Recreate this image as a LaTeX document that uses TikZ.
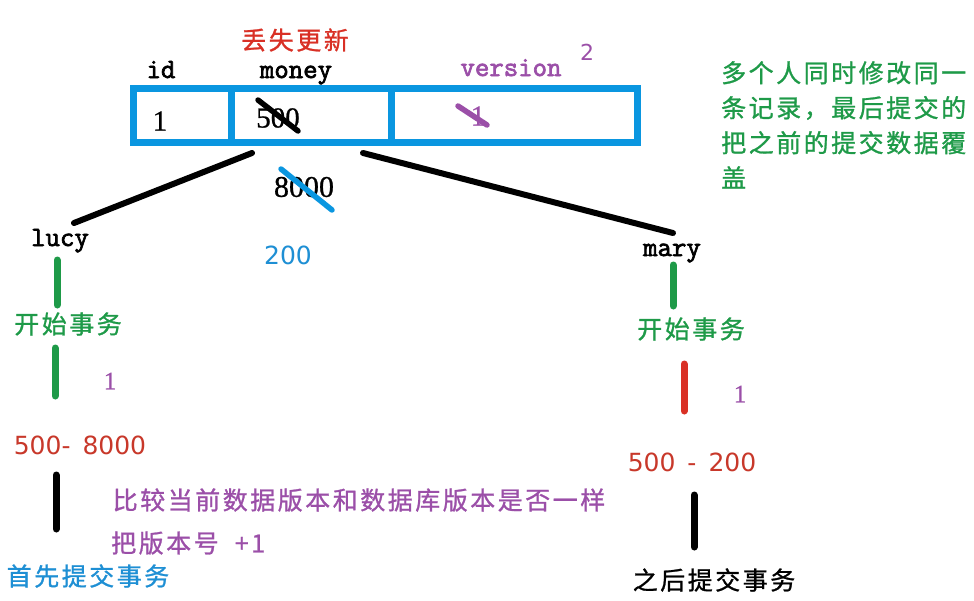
\documentclass[tikz,border=0pt]{standalone}
\usepackage{fontspec}
\newfontfamily\cjk[LetterSpace=10,FakeBold=1]{Noto Sans CJK SC}
\newfontfamily\monob{Latin Modern Mono}[FakeBold=2.5]
\newfontfamily\serifnum{Liberation Serif}[FakeBold=0.8]
\newfontfamily\sansnum{DejaVu Sans}
\definecolor{tblue}{HTML}{0A96E0}
\definecolor{tgreen}{HTML}{1E9A48}
\definecolor{tred}{HTML}{D93025}
\definecolor{tred2}{HTML}{C8382A}
\definecolor{tpurple}{HTML}{9B4FA8}
\definecolor{tblue2}{HTML}{1E8FD4}
\tikzset{
  cjktxt/.style={inner sep=0pt, font=\cjk\fontsize{25}{35}\selectfont},
  monotxt/.style={inner sep=0pt, font=\monob\fontsize{28}{30}\selectfont},
  sertxt/.style={inner sep=0pt, font=\serifnum\fontsize{29}{32}\selectfont},
  santxt/.style={inner sep=0pt, font=\sansnum\fontsize{25}{28}\selectfont},
  thick line/.style={line width=6pt, line cap=round},
  bar/.style={line width=7pt, line cap=round},
  strike/.style={line width=5.5pt, line cap=round},
}
\begin{document}
\begin{tikzpicture}[x=1pt,y=-1pt]
\useasboundingbox[fill=white] (0,0) rectangle (974,600);
% title
\node[cjktxt, text=tred] (title) at (295,40) {丢失更新};
% headers
\node[monotxt, anchor=base] (hid) at (161,78) {id};
\node[monotxt, anchor=base] (hmoney) at (296,78) {money};
\node[monotxt, anchor=base, text=tpurple] (hver) at (511,76) {version};
\node[santxt, text=tpurple, font=\sansnum\fontsize{22}{24}\selectfont] (v2) at (587,52) {2};
% table
\draw[tblue, line width=7pt] (133,88) rectangle (637,142);
\draw[tblue, line width=7pt] (231,88) -- (231,142);
\draw[tblue, line width=7pt] (391,88) -- (391,142);
\node[sertxt] (cid) at (160,121) {1};
\node[sertxt] (cmoney) at (278,118) {500};
\node[sertxt, text=tpurple] (cver) at (478,116) {1};
\coordinate (m1) at (258,100); \coordinate (m2) at (298,131);
\draw[strike, black] (m1) -- (m2);
\coordinate (p1) at (458,106); \coordinate (p2) at (487,125);
\draw[strike, tpurple] (p1) -- (p2);
% connectors
\coordinate (tl) at (252,153);
\coordinate (tr) at (363,153);
\node[monotxt, anchor=base] (lucy) at (60,246) {lucy};
\node[monotxt, anchor=base] (mary) at (672,256) {mary};
\coordinate (lucyend) at (74,223);
\coordinate (maryend) at (673,233);
\draw[thick line] (tl) -- (lucyend);
\draw[thick line] (tr) -- (maryend);
% values
\node[sertxt, font=\serifnum\fontsize{30}{32}\selectfont] (v8000) at (304,187) {8000};
\coordinate (s1) at (281,169); \coordinate (s2) at (332,210);
\draw[strike, tblue] (s1) -- (s2);
\node[santxt, text=tblue2] (v200) at (288,255) {200};
% lucy column
\node[cjktxt, text=tgreen] (lstart) at (68,324) {开始事务};
\draw[bar, tgreen] (57,260) -- (57,305);
\draw[bar, tgreen] (55,348) -- (55,396);
\node[sertxt, text=tpurple, font=\serifnum\fontsize{25}{26}\selectfont] (lver) at (110,381) {1};
\node[santxt, text=tred2] (lcalc) at (80,445) {500-\hspace{12pt}8000};
\draw[bar, black] (56,475) -- (56,529);
\node[cjktxt, text=tpurple] (cmp) at (359,500) {比较当前数据版本和数据库版本是否一样};
\node[cjktxt, text=tpurple, anchor=west] (inc) at (111,543) {把版本号\ \ +1};
\node[cjktxt, text=tblue2] (lcommit) at (88,576) {首先提交事务};
% mary column
\draw[bar, tgreen] (673,265) -- (673,306);
\node[cjktxt, text=tgreen] (mstart) at (691,329) {开始事务};
\draw[bar, tred] (684,364) -- (684,411);
\node[sertxt, text=tpurple, font=\serifnum\fontsize{25}{26}\selectfont] (mver) at (740,394) {1};
\node[santxt, text=tred2] (mcalc) at (692,462) {500\hspace{12pt}-\hspace{12pt}200};
\draw[bar, black] (694,495) -- (694,547);
\node[cjktxt] (mcommit) at (714,580) {之后提交事务};
% note
\node[cjktxt, text=tgreen, anchor=north west, align=left] (note) at (721,61)
  {多个人同时修改同一\\条记录，最后提交的\\把之前的提交数据覆\\盖};
\end{tikzpicture}
\end{document}
